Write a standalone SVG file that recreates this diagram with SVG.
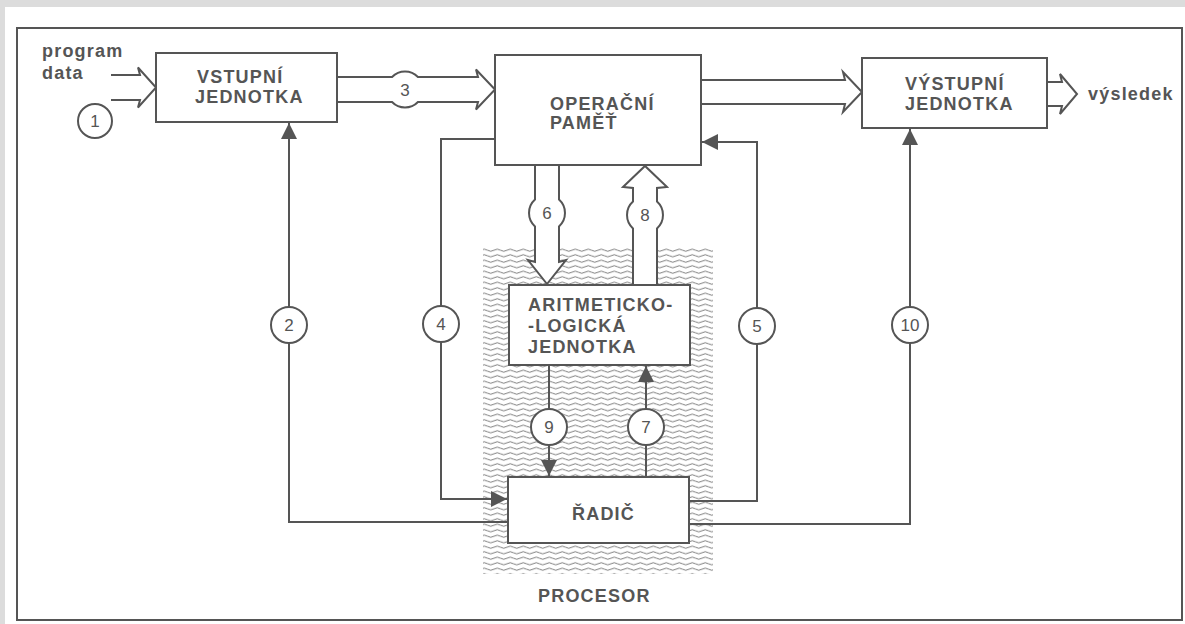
<svg xmlns="http://www.w3.org/2000/svg" width="1185" height="624" viewBox="0 0 1185 624">
<style>
.box{fill:#fff;stroke:#555;stroke-width:2}
.ln{fill:none;stroke:#555;stroke-width:2}
.fat{fill:#fff;stroke:#555;stroke-width:2;stroke-linejoin:miter}
.lbl{font-family:"Liberation Sans",Arial,sans-serif;font-weight:bold;font-size:18px;fill:#555;letter-spacing:1.2px}
.num{font-family:"Liberation Sans",Arial,sans-serif;font-size:17px;fill:#555;text-anchor:middle}
.circ{fill:#fff;stroke:#555;stroke-width:2}
</style>
<defs>
<marker id="ah" markerUnits="userSpaceOnUse" markerWidth="18" markerHeight="18" refX="16" refY="8" orient="auto">
<path d="M0,0 L16,8 L0,16 Z" fill="#555"/>
</marker>
<pattern id="wv" width="13" height="5.5" patternUnits="userSpaceOnUse">
<path d="M0,2.75 Q3.25,0.6 6.5,2.75 T13,2.75" stroke="#6a6a6a" stroke-width="0.9" fill="none"/>
</pattern>
</defs>
<rect x="0" y="0" width="1185" height="624" fill="#dcdcdc"/>
<rect x="5" y="7" width="1180" height="617" fill="#fff"/>
<rect x="17" y="28" width="1165" height="592" fill="none" stroke="#555" stroke-width="2"/>
<rect id="procesor-area" x="483" y="248" width="230" height="326" fill="url(#wv)"/>
<g id="connectors">
<path class="ln" d="M111,75 H140 L138,67.5 L156,87.5 L138,107.5 L140,100 H111"/>
<path class="fat" d="M337,77 H392.05 A18 18 0 0 1 417.95 77 H478 L476,69.5 L495,89.5 L476,109.5 L478,102 H417.95 A18 18 0 0 1 392.05 102 H337 Z"/>
<path class="fat" d="M701,80 H845 L843,72 L862,92 L843,112 L845,104 H701 Z"/>
<path class="fat" d="M1047,82 H1062 L1060,74 L1077,94 L1060,114 L1062,106 H1047 Z"/>
<path class="fat" d="M535,165 V199.6 A18 18 0 0 0 535 226.4 V262 L528,260 L547,284 L566,260 L559,262 V226.4 A18 18 0 0 0 559 199.6 V165 Z"/>
<path class="fat" d="M633,285 V228.4 A18 18 0 0 1 633 201.6 V188 L623,187 L645,166 L667,187 L657,188 V201.6 A18 18 0 0 1 657 228.4 V285 Z"/>
<path class="ln" d="M508,522 H289 V123" marker-end="url(#ah)"/>
<path class="ln" d="M495,139 H441 V499 H507" marker-end="url(#ah)"/>
<path class="ln" d="M689,501 H757 V142 H702" marker-end="url(#ah)"/>
<path class="ln" d="M689,524 H910 V129" marker-end="url(#ah)"/>
<path class="ln" d="M549,365 V476" marker-end="url(#ah)"/>
<path class="ln" d="M646,477 V366" marker-end="url(#ah)"/>
</g>
<g id="input-label">
<text class="lbl" x="42" y="57">program</text>
<text class="lbl" x="42" y="79">data</text>
</g>
<g id="vstupni">
<rect class="box" x="156" y="53" width="181" height="69"/>
<text class="lbl" x="197" y="83">VSTUPNÍ</text>
<text class="lbl" x="195" y="103">JEDNOTKA</text>
</g>
<g id="operacni">
<rect class="box" x="495" y="55" width="206" height="110"/>
<text class="lbl" x="550" y="110">OPERAČNÍ</text>
<text class="lbl" x="550" y="129">PAMĚŤ</text>
</g>
<g id="vystupni">
<rect class="box" x="862" y="58" width="185" height="70"/>
<text class="lbl" x="905" y="90">VÝSTUPNÍ</text>
<text class="lbl" x="905" y="110">JEDNOTKA</text>
</g>
<g id="vysledek">
<text class="lbl" x="1088" y="100">výsledek</text>
</g>
<g id="alu">
<rect class="box" x="509" y="285" width="181" height="80"/>
<text class="lbl" x="528" y="311">ARITMETICKO-</text>
<text class="lbl" x="528" y="332">-LOGICKÁ</text>
<text class="lbl" x="528" y="353">JEDNOTKA</text>
</g>
<g id="radic">
<rect class="box" x="508" y="477" width="181" height="66"/>
<text class="lbl" x="572" y="520">ŘADIČ</text>
</g>
<g id="procesor-label">
<text class="lbl" x="538" y="602">PROCESOR</text>
</g>
<g id="markers">
<g id="n1"><circle class="circ" cx="95" cy="121" r="17"/><text class="num" x="95" y="127">1</text></g>
<g id="n2"><circle class="circ" cx="289" cy="325" r="18"/><text class="num" x="289" y="331">2</text></g>
<g id="n3"><text class="num" x="405" y="95.5">3</text></g>
<g id="n4"><circle class="circ" cx="441" cy="324" r="18"/><text class="num" x="441" y="330">4</text></g>
<g id="n5"><circle class="circ" cx="757" cy="326" r="18"/><text class="num" x="757" y="332">5</text></g>
<g id="n6"><text class="num" x="547" y="219">6</text></g>
<g id="n7"><circle class="circ" cx="646" cy="427" r="18"/><text class="num" x="646" y="433">7</text></g>
<g id="n8"><text class="num" x="645" y="221">8</text></g>
<g id="n9"><circle class="circ" cx="549" cy="427" r="18"/><text class="num" x="549" y="433">9</text></g>
<g id="n10"><circle class="circ" cx="910" cy="325" r="18"/><text class="num" x="910" y="331">10</text></g>
</g>
</svg>
